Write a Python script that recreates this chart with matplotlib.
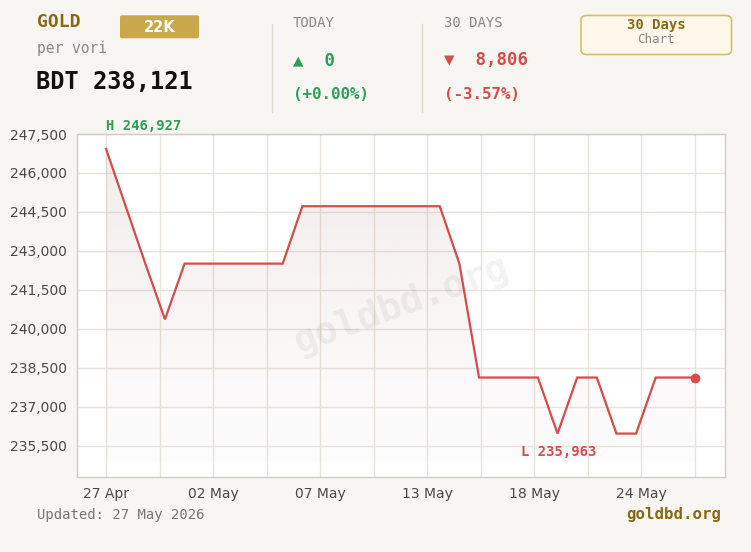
import numpy as np
import matplotlib
matplotlib.use("Agg")
import matplotlib.pyplot as plt
from matplotlib.patches import FancyBboxPatch
from matplotlib.lines import Line2D

# ---------------- data ----------------
dates = ["27 Apr", "28 Apr", "29 Apr", "30 Apr", "01 May", "02 May", "03 May", "04 May",
         "05 May", "06 May", "07 May", "08 May", "09 May", "10 May", "11 May", "12 May",
         "13 May", "14 May", "15 May", "16 May", "17 May", "18 May", "19 May", "20 May",
         "21 May", "22 May", "23 May", "24 May", "25 May", "26 May", "27 May"]
prices = [246927, 244718, 242509, 240361, 242507, 242507, 242507, 242507,
          242507, 242507, 244718, 244718, 244718, 244718, 244718, 244718,
          244718, 244718, 242507, 238121, 238121, 238121, 238121, 235963,
          238121, 238121, 235963, 235963, 238121, 238121, 238121]
xtick_labels = ["27 Apr", "02 May", "07 May", "13 May", "18 May", "24 May"]
ytick_values = [235500, 237000, 238500, 240000, 241500, 243000, 244500, 246000, 247500]

current_price = "BDT 238,121"
today_change = "0"
today_pct = "(+0.00%)"
month_change = "8,806"
month_pct = "(-3.57%)"
updated = "Updated: 27 May 2026"

# ---------------- style ----------------
BG = "#f7f6f2"
GOLD = "#8b6914"
BADGE = "#c9a84c"
GREEN = "#2e9e57"
RED = "#d94a4a"
FILL = "#965a5a"
GRAY = "#888888"
TICK = "#4a4a4a"
GRID = "#e8e4dc"
SPINE = "#d0ccc4"
MONO = "DejaVu Sans Mono"

W, H = 751, 552
fig = plt.figure(figsize=(W / 100, H / 100), dpi=100, facecolor=BG)


def fx(px):
    return px / W


def fy(py):
    return 1 - py / H


ax = fig.add_axes([fx(77), fy(477), fx(725) - fx(77), fy(134) - fy(477)])
ax.set_facecolor("white")

x = np.arange(len(prices))
y = np.array(prices, dtype=float)

ymin, ymax = 234290, 247500
ax.set_xlim(-1.48, 31.53)
ax.set_ylim(ymin, ymax)

# grid
grid_pos = np.linspace(0, len(prices) - 1, 12)
ax.set_xticks(grid_pos)
labels_full = []
k = 0
for i in range(len(grid_pos)):
    if i % 2 == 0 and k < len(xtick_labels):
        labels_full.append(xtick_labels[k])
        k += 1
    else:
        labels_full.append("")
ax.set_xticklabels(labels_full)
ax.set_yticks(ytick_values)
ax.set_yticklabels([f"{v:,}" for v in ytick_values])
ax.grid(True, color=GRID, linewidth=1, zorder=0)
ax.set_axisbelow(True)
ax.tick_params(length=0, labelsize=10, labelcolor=TICK, pad=7)
for s in ax.spines.values():
    s.set_color(SPINE)
    s.set_linewidth(1)

# gradient fill under line
poly = ax.fill_between(x, y, ymin, facecolor="none", edgecolor="none")
grad = np.zeros((256, 1, 4))
rgb = matplotlib.colors.to_rgb(FILL)
grad[:, 0, 0] = rgb[0]
grad[:, 0, 1] = rgb[1]
grad[:, 0, 2] = rgb[2]
grad[:, 0, 3] = np.linspace(0.11, 0.015, 256)
fill_bottom = 234866
im = ax.imshow(grad, extent=[x[0], x[-1], fill_bottom, y.max()], aspect="auto",
               origin="upper", zorder=1, interpolation="bilinear")
im.set_clip_path(poly.get_paths()[0], transform=ax.transData)

# watermark
ax.text(0.5, 0.5, "goldbd.org", transform=ax.transAxes, fontsize=27,
        family=MONO, fontweight="bold", color="#000000", alpha=0.05,
        rotation=20, ha="center", va="center", zorder=2)

# line
ax.plot(x, y, color=RED, linewidth=1.6, zorder=3, solid_joinstyle="miter")
ax.plot([x[-1]], [y[-1]], "o", color=RED, markersize=6, zorder=4)

# high / low labels
ih = int(np.argmax(y))
il = int(np.argmin(y))
ax.annotate(f"H {int(y[ih]):,}", xy=(x[ih], y[ih]), xytext=(0, 16),
            textcoords="offset pixels", ha="left", va="bottom", fontsize=10,
            family=MONO, fontweight="bold", color=GREEN, annotation_clip=False)
ax.annotate(f"L {int(y[il]):,}", xy=(x[il], y[il]), xytext=(1, -11),
            textcoords="offset pixels", ha="center", va="top", fontsize=10,
            family=MONO, fontweight="bold", color=RED, annotation_clip=False)

# ---------------- header ----------------
fig.text(fx(37), fy(27), "GOLD", fontsize=13, family=MONO, fontweight="bold",
         color=GOLD, va="baseline")
fig.patches.append(FancyBboxPatch((fx(120), fy(38.3)), fx(199) - fx(120), fy(15.3) - fy(38.3),
                                  boxstyle="round,pad=0,rounding_size=0.003",
                                  transform=fig.transFigure, facecolor=BADGE,
                                  edgecolor="none"))
fig.text(fx(160), fy(27), "22K", fontsize=10.5, family="DejaVu Sans", fontweight="bold",
         color="white", ha="center", va="center")
fig.text(fx(37), fy(52.5), "per vori", fontsize=10.5, family=MONO, color=GRAY, va="baseline")
fig.text(fx(36), fy(89.5), current_price, fontsize=17, family=MONO, fontweight="bold",
         color="#111111", va="baseline")

for sx in (271.7, 422.3):
    fig.lines.append(Line2D([fx(sx), fx(sx)], [fy(24), fy(111.7)], transform=fig.transFigure,
                            color="#dedad2", linewidth=1))

fig.text(fx(293), fy(26.7), "TODAY", fontsize=10, family=MONO, color=GRAY, va="baseline")
fig.text(fx(293), fy(65), "\u25b2  " + today_change, fontsize=12.5, family=MONO,
         fontweight="bold", color=GREEN, va="baseline")
fig.text(fx(293), fy(99), today_pct, fontsize=11.3, family=MONO, fontweight="bold",
         color=GREEN, va="baseline")

fig.text(fx(444), fy(26.7), "30 DAYS", fontsize=10, family=MONO, color=GRAY, va="baseline")
fig.text(fx(444), fy(65), "\u25bc  " + month_change, fontsize=12.5, family=MONO,
         fontweight="bold", color=RED, va="baseline")
fig.text(fx(444), fy(99), month_pct, fontsize=11.3, family=MONO, fontweight="bold",
         color=RED, va="baseline")

fig.patches.append(FancyBboxPatch((fx(581), fy(54.5)), fx(731.5) - fx(581), fy(15.5) - fy(54.5),
                                  boxstyle="round,pad=0,rounding_size=0.008",
                                  transform=fig.transFigure, facecolor="#fdf8ea",
                                  edgecolor="#d9bc6a", linewidth=1.2))
fig.text(fx(656), fy(29.3), "30 Days", fontsize=10, family=MONO, fontweight="bold",
         color=GOLD, ha="center", va="baseline")
fig.text(fx(656), fy(43), "Chart", fontsize=9, family=MONO, color=GRAY,
         ha="center", va="baseline")

# ---------------- footer ----------------
fig.text(fx(37), fy(519), updated, fontsize=10, family=MONO, color="#777777", va="baseline")
fig.text(fx(721), fy(519), "goldbd.org", fontsize=11.3, family=MONO, fontweight="bold",
         color=GOLD, ha="right", va="baseline")

fig.savefig("out.png", dpi=100, facecolor=BG)
